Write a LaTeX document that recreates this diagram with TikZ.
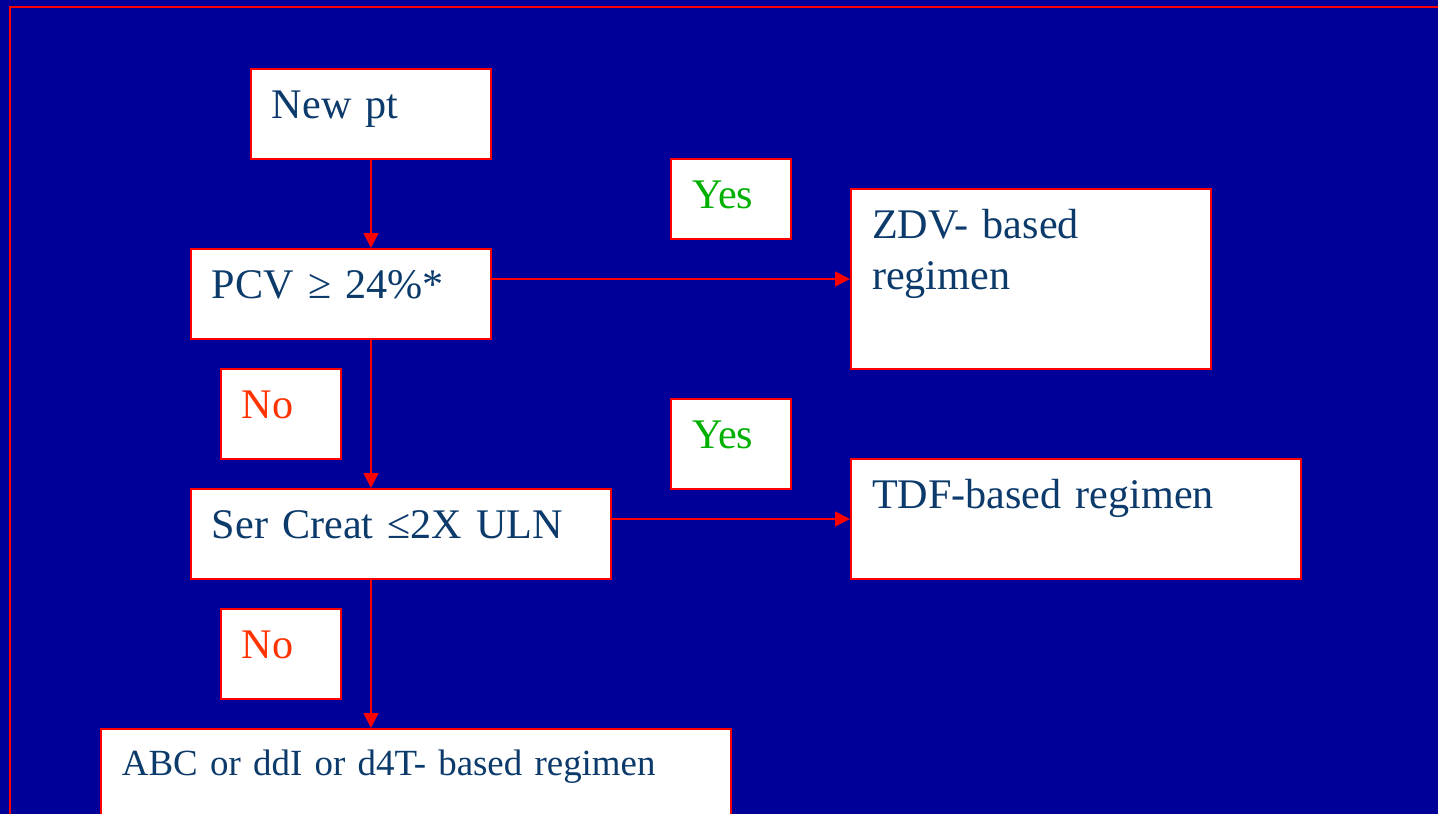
\documentclass[tikz,border=0pt]{standalone}
\usepackage{fontspec}
\setmainfont[WordSpace=0.8]{Liberation Serif}
\usetikzlibrary{arrows.meta}
\definecolor{slideblue}{RGB}{0,0,153}
\definecolor{boxtext}{RGB}{11,58,107}
\definecolor{yesgreen}{RGB}{0,176,0}
\definecolor{nored}{RGB}{255,51,0}

\begin{document}
\begin{tikzpicture}
	[x=0.02cm,y=-0.02cm,
	every node/.style={draw=red, fill=white, line width=0.04cm, anchor=north west, align=left,
		inner xsep=0.42cm, inner ysep=0.44cm, text height=0.56cm, text=boxtext,
		font=\fontsize{24}{28.5}\selectfont},
	answer/.style={text width=1.56cm, text depth=0.36cm},
	arr/.style={draw=red, line width=0.03cm, -{Triangle[length=0.3cm,width=0.3cm]}}]
	\path[use as bounding box, clip] (0,0) rectangle (1438,814);
	\fill[slideblue] (0,0) rectangle (1438,814);
	\draw[red, line width=0.04cm] (10,7) rectangle (1460,840);

	\node[text width=3.96cm, text depth=0.36cm] (newpt) at (250,68) {New pt};
	\node[text width=5.16cm, text depth=0.36cm] (pcv) at (190,248) {PCV ≥ 24\%*};
	\node[text width=7.56cm, text depth=0.36cm] (ser) at (190,488) {Ser Creat ≤2X ULN};
	\node[text width=6.36cm, text depth=2.16cm] (zdv) at (850,188) {ZDV- based\\regimen};
	\node[text width=8.16cm, text depth=0.96cm] (tdf) at (850,458) {TDF-based regimen};
	\node[text width=11.76cm, text height=0.49cm, text depth=1.03cm,
		font=\fontsize{21}{25}\selectfont] (abc) at (100,728) {ABC or ddI or d4T- based regimen};

	\node[answer, text=yesgreen, text depth=0.16cm] (yes1) at (670,158) {Yes};
	\node[answer, text=yesgreen] (yes2) at (670,398) {Yes};
	\node[answer, text=nored] (no1) at (220,368) {No};
	\node[answer, text=nored] (no2) at (220,608) {No};

	\draw[arr] (newpt.south) -- (newpt.south |- pcv.north);
	\draw[arr] (newpt.south |- pcv.south) -- (newpt.south |- ser.north);
	\draw[arr] (newpt.south |- ser.south) -- (newpt.south |- abc.north);
	\draw[arr] (pcv.east |- zdv.west) -- (zdv.west);
	\draw[arr] (ser.east |- tdf.west) -- (tdf.west);
\end{tikzpicture}
\end{document}
